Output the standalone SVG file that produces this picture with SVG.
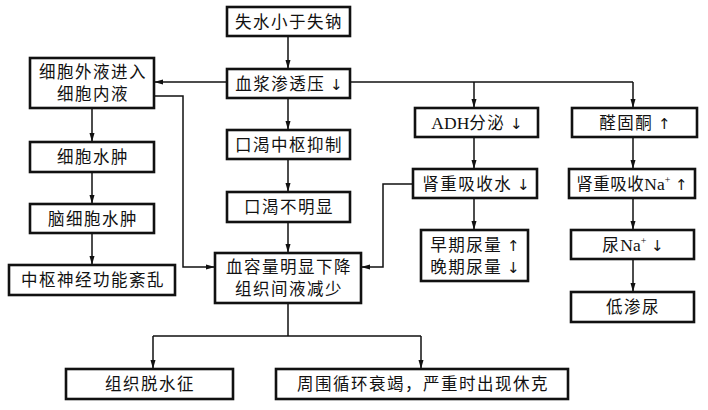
<svg xmlns="http://www.w3.org/2000/svg" width="708" height="410" viewBox="0 0 708 410">
<defs>
<marker id="ah" markerWidth="9" markerHeight="6" refX="9" refY="3" orient="auto" markerUnits="userSpaceOnUse">
<path d="M0,0.5 L9,3 L0,5.5 z" fill="#111"/>
</marker>
<style>
.box{fill:#fff;stroke:#111;stroke-width:2.6}
.t{font-family:"Noto Sans CJK SC","Noto Sans",sans-serif;font-size:16.5px;fill:#111;text-anchor:middle;letter-spacing:1.5px}
.lat{font-family:"Liberation Serif",serif;letter-spacing:0}
.ar{font-family:"DejaVu Sans",sans-serif;font-size:15px;letter-spacing:0}
.c{fill:none;stroke:#111;stroke-width:1.5}
.a{marker-end:url(#ah)}
</style>
</defs>
<rect width="708" height="410" fill="#fff"/>
<g id="connectors">
<path class="c a" d="M288,36 V69"/>
<path class="c a" d="M227,82 H154"/>
<path class="c" d="M350,82 H633"/>
<path class="c a" d="M474,82 V108"/>
<path class="c a" d="M633,82 V108"/>
<path class="c a" d="M288,98 V130"/>
<path class="c a" d="M288,159 V192"/>
<path class="c a" d="M288,222 V253"/>
<path class="c a" d="M154,96 H183 V267 H215"/>
<path class="c a" d="M413,184 H383 V267 H361"/>
<path class="c a" d="M92,108 V142"/>
<path class="c a" d="M92,172 V204"/>
<path class="c a" d="M92,233 V265"/>
<path class="c a" d="M474,137 V169"/>
<path class="c a" d="M474,198 V230"/>
<path class="c a" d="M633,137 V169"/>
<path class="c a" d="M633,198 V230"/>
<path class="c a" d="M633,259 V292"/>
<path class="c" d="M288,303 V336 M153,336 H421"/>
<path class="c a" d="M153,336 V369"/>
<path class="c a" d="M421,336 V369"/>
</g>
<g id="n1"><rect class="box" x="227" y="7" width="123" height="29"/><text class="t" x="289" y="27.5">失水小于失钠</text></g>
<g id="n2"><rect class="box" x="227" y="69" width="123" height="29"/><text class="t" x="289" y="89.5">血浆渗透压<tspan class="ar"> ↓</tspan></text></g>
<g id="n3"><rect class="box" x="30" y="58" width="124" height="50"/><text class="t" x="93" y="78">细胞外液进入</text><text class="t" x="93" y="100">细胞内液</text></g>
<g id="n4"><rect class="box" x="227" y="130" width="123" height="29"/><text class="t" x="289" y="150.5">口渴中枢抑制</text></g>
<g id="n5"><rect class="box" x="227" y="192" width="123" height="30"/><text class="t" x="289" y="213">口渴不明显</text></g>
<g id="n6"><rect class="box" x="215" y="253" width="146" height="50"/><text class="t" x="289" y="273">血容量明显下降</text><text class="t" x="289" y="295">组织间液减少</text></g>
<g id="n7"><rect class="box" x="30" y="142" width="124" height="30"/><text class="t" x="93" y="163">细胞水肿</text></g>
<g id="n8"><rect class="box" x="30" y="204" width="124" height="29"/><text class="t" x="93" y="224.5">脑细胞水肿</text></g>
<g id="n9"><rect class="box" x="9" y="265" width="166" height="30"/><text class="t" x="93" y="286">中枢神经功能紊乱</text></g>
<g id="n10"><rect class="box" x="415" y="108" width="123" height="29"/><text class="t" x="477" y="128.5"><tspan class="lat" font-size="17.5">ADH</tspan>分泌<tspan class="ar"> ↓</tspan></text></g>
<g id="n11"><rect class="box" x="572" y="108" width="125" height="29"/><text class="t" x="635" y="128.5">醛固酮<tspan class="ar"> ↑</tspan></text></g>
<g id="n12"><rect class="box" x="413" y="169" width="124" height="29"/><text class="t" x="476" y="189.5">肾重吸收水<tspan class="ar"> ↓</tspan></text></g>
<g id="n13"><rect class="box" x="421" y="230" width="107" height="51"/><text class="t" x="475" y="250.5">早期尿量<tspan class="ar"> ↑</tspan></text><text class="t" x="475" y="273">晚期尿量<tspan class="ar"> ↓</tspan></text></g>
<g id="n14"><rect class="box" x="569" y="169" width="126" height="29"/><text class="t" x="632" y="189.5" style="letter-spacing:0.5px">肾重吸收<tspan class="lat" font-size="17.5">Na</tspan><tspan class="lat" font-size="10" dy="-7">+</tspan><tspan class="ar" dy="7"> ↑</tspan></text></g>
<g id="n15"><rect class="box" x="571" y="230" width="123" height="29"/><text class="t" x="633" y="250.5">尿<tspan class="lat" font-size="17.5">Na</tspan><tspan class="lat" font-size="10" dy="-7">+</tspan><tspan class="ar" dy="7">  ↓</tspan></text></g>
<g id="n16"><rect class="box" x="571" y="292" width="123" height="30"/><text class="t" x="633" y="313">低渗尿</text></g>
<g id="n17"><rect class="box" x="66" y="369" width="167" height="30"/><text class="t" x="150" y="390">组织脱水征</text></g>
<g id="n18"><rect class="box" x="276" y="369" width="292" height="30"/><text class="t" x="423" y="390">周围循环衰竭，严重时出现休克</text></g>
</svg>
